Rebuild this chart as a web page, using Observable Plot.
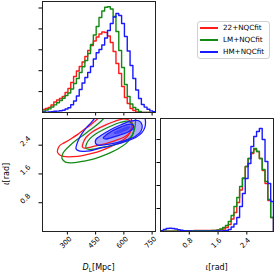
<!DOCTYPE html>
<html><head><meta charset="utf-8">
<script src="https://cdn.jsdelivr.net/npm/d3@7"></script>
<script src="https://cdn.jsdelivr.net/npm/@observablehq/plot@0.6"></script>
<style>
body{margin:0;background:#fff;}
#wrap{position:relative;width:274px;height:273px;overflow:hidden;font-family:"DejaVu Sans",sans-serif;color:#000;}
#wrap svg{position:absolute;left:0;top:0;background:transparent;}
.lab{position:absolute;font-size:8px;white-space:nowrap;line-height:1;}
.legend{position:absolute;left:197px;top:21px;width:71px;height:36px;border:1px solid #d0d0d0;border-radius:3px;background:#fff;font-size:7.2px;}
.legend .row{position:absolute;left:0;height:10px;line-height:10px;}
.legend .sw{position:absolute;left:2px;top:4px;width:18px;height:2px;}
.legend .tx{position:absolute;left:25px;top:0;}
</style></head><body><div id="wrap"></div>
<script>
// ---------- data ----------
const seriesNames = ["22+NQCfit", "LM+NQCfit", "HM+NQCfit"];
const seriesColors = ["#ff1a1a", "#138a13", "#1a1aff"];

// luminosity distance histograms (40 bins of 15 Mpc from 168 Mpc), relative heights
const dlBinStart = 168, dlBinWidth = 15;
const dlRed   = [3,4,5,7.5,10.5,12.5,14,16,20,24,30,36,41.5,46,50.5,56,62,67,71.5,75.5,78.5,80.5,80,76.5,70,61,49,39,26,15,9,4,2,0.5,0,0,0,0,0,0];
const dlGreen = [1.3,2.5,3.6,5.5,7.6,9.8,12,14.3,17,19.5,23.5,29,34,40,45.7,52,59,68,77.5,86,95,101.5,105.3,105.8,103.5,96,81,62,45,28,16,8.5,5,3,1,0,0,0,0,0];
const dlBlue  = [0.2,0.4,0.6,0.9,1.2,1.4,1.8,2.3,3.5,4.7,7.8,11.5,16.5,23,29.5,35,40,46,53.5,59.8,63,67.5,74.5,82,89,95.5,99,97,89,76,61.5,47,34,22.5,14,8,5.4,3.3,1.6,0.8];

// inclination histograms (40 bins over [0, pi]), relative heights
const iotaBins = 40;
const iotaRed   = [0.2,0.2,0.3,0.3,0.3,0.4,0.5,0.5,0.6,0.7,0.8,0.9,1,1,1.1,1.1,1,1,1,1.1,1.5,2,2.5,4,7,12.5,19,29,41.5,53,65,73,78,82,80,73,61,48,31,14];
const iotaGreen = [0.3,0.3,0.3,0.3,0.4,0.4,0.4,0.5,0.5,0.6,0.6,0.6,0.7,0.7,0.8,0.8,0.8,0.9,1,1.1,1.5,2.5,4,6,10,16,25,34,45,53.5,65,73,79,83,80,73,62,50,32,14];
const iotaBlue  = [0.8,2,3,3.3,3,2.5,1.8,1.2,0.8,0.6,0.5,0.4,0.4,0.4,0.4,0.4,0.4,0.4,0.4,0.5,0.5,0.6,0.7,1,2,4.5,7.5,14,25,38,53,68,85,95,100,103,92,70,48,30];

// 2D contours [D_L (Mpc), iota (rad)]
const redOuter   = [[248,2.20],[250,2.30],[262,2.40],[285,2.47],[320,2.58],[355,2.70],[390,2.84],[420,2.95],[445,3.06],[470,3.18],[490,3.32],[625,3.32],[640,3.12],[643,2.92],[632,2.74],[610,2.60],[575,2.48],[530,2.36],[480,2.25],[430,2.17],[380,2.11],[330,2.08],[290,2.08],[262,2.12]];
const redInner   = [[380,2.35],[385,2.48],[400,2.62],[430,2.76],[470,2.88],[510,2.98],[555,3.07],[600,3.13],[632,3.08],[642,2.92],[630,2.74],[600,2.62],[550,2.52],[500,2.44],[450,2.38],[410,2.33],[390,2.32]];
const greenOuter = [[272,2.02],[274,2.14],[285,2.24],[315,2.40],[350,2.55],[390,2.70],[430,2.86],[465,3.00],[495,3.15],[515,3.32],[655,3.32],[662,3.10],[657,2.85],[640,2.62],[612,2.45],[570,2.30],[520,2.17],[470,2.07],[420,1.99],[370,1.94],[320,1.91],[290,1.93]];
const greenInner = [[398,2.32],[402,2.44],[420,2.58],[450,2.71],[490,2.83],[535,2.94],[580,3.03],[620,3.07],[648,2.98],[652,2.80],[636,2.62],[600,2.50],[550,2.41],[500,2.35],[450,2.30],[415,2.28]];
const blueOuter  = [[346,2.30],[350,2.42],[362,2.58],[380,2.74],[400,2.88],[425,3.02],[450,3.18],[470,3.32],[700,3.32],[714,3.10],[712,2.90],[695,2.74],[665,2.62],[620,2.52],[570,2.44],[520,2.37],[470,2.31],[420,2.24],[380,2.23],[358,2.25]];
const blueMid    = [[449,2.46],[452,2.56],[476,2.66],[529,2.83],[582,2.96],[635,3.07],[679,3.08],[697,2.96],[690,2.78],[660,2.64],[635,2.58],[565,2.47],[494,2.41],[462,2.40]];
const blueInner  = [[490,2.60],[505,2.68],[540,2.80],[585,2.91],[625,2.98],[650,2.96],[648,2.86],[620,2.76],[578,2.68],[535,2.61],[505,2.57]];
const blueCore   = [[545,2.74],[580,2.84],[615,2.92],[635,2.92],[625,2.84],[595,2.77],[560,2.71]];

// axes
const dlDomain = [168, 768];
const dlTicks = [300, 450, 600, 750];
const iotaDomain = [0, Math.PI];
const iotaTicks = [0.8, 1.6, 2.4];
const dlHistTop = 111, dlHistTickStep = 20.9;
const iotaHistTop = 113, iotaHistTickStep = 23;

// ---------- drawing ----------
const W = 274, H = 273;
const baseStyle = {background: "transparent", fontFamily: "DejaVu Sans", fontSize: "7px", color: "#000", overflow: "visible"};
const P = {x: d => d[0], y: d => d[1]};
function stepPts(vals, start, step) {
  const pts = [[start, 0]];
  vals.forEach((v, i) => pts.push([start + i * step, v]));
  pts.push([start + vals.length * step, vals[vals.length - 1]]);
  pts.push([start + vals.length * step, 0]);
  return pts;
}
const none = () => "";
const wrap = document.getElementById("wrap");

// top-left: D_L histogram
const dlSeries = [dlRed, dlGreen, dlBlue];
wrap.append(Plot.plot({
  width: W, height: H, marginLeft: 42, marginRight: W - 155, marginTop: 1, marginBottom: H - 112,
  style: baseStyle,
  x: {domain: dlDomain, ticks: dlTicks, tickSize: 3.5, tickFormat: none, label: null},
  y: {domain: [0, dlHistTop], ticks: d3.range(1, 6).map(k => k * dlHistTickStep), tickSize: 3.5, tickFormat: none, label: null},
  marks: [
    ...dlSeries.map((s, i) => Plot.line(stepPts(s, dlBinStart, dlBinWidth), {...P, curve: "step-after", stroke: seriesColors[i], strokeWidth: 1.4, clip: true})),
    Plot.frame({stroke: "#222"})
  ]
}));

// bottom-left: 2D contours
const fills = [[blueOuter, 0.06], [blueMid, 0.32], [blueInner, 0.45], [blueCore, 0.5]];
const contours = [[redOuter, 0], [redInner, 0], [greenOuter, 1], [greenInner, 1], [blueOuter, 2], [blueMid, 2], [blueInner, 2]];
wrap.append(Plot.plot({
  width: W, height: H, marginLeft: 42, marginRight: W - 155, marginTop: 118, marginBottom: H - 231,
  style: baseStyle,
  x: {domain: dlDomain, ticks: dlTicks, tickSize: 3.5, tickFormat: none, label: null},
  y: {domain: iotaDomain, ticks: iotaTicks, tickSize: 3.5, tickFormat: none, label: null},
  marks: [
    ...fills.map(([c, o]) => Plot.line(c, {...P, curve: "catmull-rom-closed", stroke: "none", fill: "#1a1aff", fillOpacity: o, clip: true})),
    ...contours.map(([c, i]) => Plot.line(c, {...P, curve: "catmull-rom-closed", stroke: seriesColors[i], strokeWidth: 1.25, clip: true})),
    Plot.frame({stroke: "#222"}),
    Plot.text(dlTicks, {x: d => d, frameAnchor: "bottom", dy: 12.5, rotate: -45, text: d => String(d), fontSize: 7}),
    Plot.text(iotaTicks, {y: d => d, frameAnchor: "left", dx: -21, rotate: -45, text: d => d.toFixed(1), fontSize: 7})
  ]
}));

// bottom-right: iota histogram
const iotaSeries = [iotaRed, iotaGreen, iotaBlue];
const iotaStep = Math.PI / iotaBins;
wrap.append(Plot.plot({
  width: W, height: H, marginLeft: 160, marginRight: 1, marginTop: 118, marginBottom: H - 231,
  style: baseStyle,
  x: {domain: iotaDomain, ticks: iotaTicks, tickSize: 3.5, tickFormat: none, label: null},
  y: {domain: [0, iotaHistTop], ticks: d3.range(1, 5).map(k => k * iotaHistTickStep), tickSize: 3.5, tickFormat: none, label: null},
  marks: [
    ...iotaSeries.map((s, i) => Plot.line(stepPts(s, 0, iotaStep), {...P, curve: "step-after", stroke: seriesColors[i], strokeWidth: 1.4, clip: true})),
    Plot.frame({stroke: "#222"}),
    Plot.text(iotaTicks, {x: d => d, frameAnchor: "bottom", dy: 13, rotate: -45, text: d => d.toFixed(1), fontSize: 7})
  ]
}));

// axis labels
function addLabel(html, cx, cy, rot) {
  const s = document.createElement("div");
  s.className = "lab";
  s.innerHTML = html;
  wrap.append(s);
  s.style.left = (cx - s.offsetWidth / 2) + "px";
  s.style.top = (cy - s.offsetHeight / 2) + "px";
  if (rot) s.style.transform = `rotate(${rot}deg)`;
}
addLabel('<i>D</i><sub style="font-size:6px;vertical-align:-1.5px">L</sub>[Mpc]', 98.5, 268);
addLabel('<i>ι</i>[rad]', 216.5, 268);
addLabel('<i>ι</i>[rad]', 7, 174, -90);

// legend
const lg = document.createElement("div");
lg.className = "legend";
seriesNames.forEach((n, i) => {
  const row = document.createElement("div");
  row.className = "row";
  row.style.top = (1 + i * 12) + "px";
  row.style.width = "100%";
  row.innerHTML = `<div class="sw" style="background:${seriesColors[i]}"></div><div class="tx">${n}</div>`;
  lg.append(row);
});
wrap.append(lg);
</script></body></html>
